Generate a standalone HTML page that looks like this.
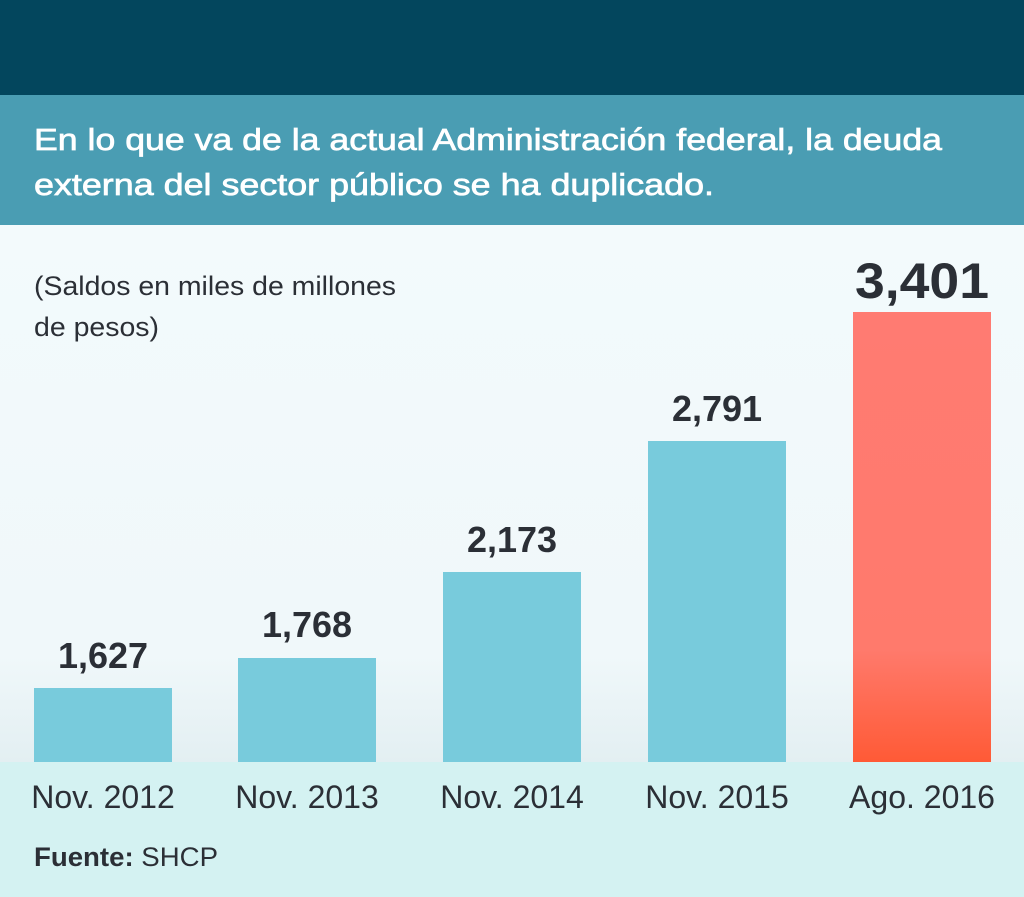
<!DOCTYPE html>
<html><head><meta charset="utf-8"><style>html,body{margin:0;padding:0;}svg{display:block}</style></head>
<body>
<svg width="1024" height="897" viewBox="0 0 1024 897" xmlns="http://www.w3.org/2000/svg" font-family="Liberation Sans, sans-serif">
<defs>
<linearGradient id="bg" x1="0" y1="0" x2="0" y2="1"><stop offset="0" stop-color="#f3fafc"/><stop offset="0.8" stop-color="#f0f8fa"/><stop offset="1" stop-color="#e3eff2"/></linearGradient>
<linearGradient id="red" x1="0" y1="0" x2="0" y2="1"><stop offset="0" stop-color="#ff7b72"/><stop offset="0.75" stop-color="#ff7a6c"/><stop offset="1" stop-color="#ff5a36"/></linearGradient>
</defs>
<rect x="0" y="0" width="1024" height="95" fill="#03465d"/>
<rect x="0" y="95" width="1024" height="130" fill="#4a9db3"/>
<rect x="0" y="225" width="1024" height="537" fill="url(#bg)"/>
<rect x="0" y="762" width="1024" height="135" fill="#d4f2f2"/>
<g fill="#ffffff" stroke="#ffffff" stroke-width="0.7" font-size="31">
<text x="34" y="150" textLength="908" lengthAdjust="spacingAndGlyphs">En lo que va de la actual Administración federal, la deuda</text>
<text x="34" y="195" textLength="680" lengthAdjust="spacingAndGlyphs">externa del sector público se ha duplicado.</text>
</g>
<g fill="#2b2f36" font-size="27">
<text x="34" y="295" textLength="362" lengthAdjust="spacingAndGlyphs">(Saldos en miles de millones</text>
<text x="34" y="336" textLength="125" lengthAdjust="spacingAndGlyphs">de pesos)</text>
</g>
<g fill="#78cbdc">
<rect x="34" y="688" width="138" height="74"/>
<rect x="238" y="658" width="138" height="104"/>
<rect x="443" y="572" width="138" height="190"/>
<rect x="648" y="441" width="138" height="321"/>
</g>
<rect x="853" y="312" width="138" height="450" fill="url(#red)"/>
<g fill="#2b2f36" font-weight="bold" font-size="36" text-anchor="middle">
<text x="103" y="668">1,627</text>
<text x="307" y="637">1,768</text>
<text x="512" y="552">2,173</text>
<text x="717" y="421">2,791</text>
<text x="922" y="298" font-size="50" textLength="134" lengthAdjust="spacingAndGlyphs">3,401</text>
</g>
<g fill="#2b2f36" font-size="32" text-anchor="middle">
<text x="103" y="808">Nov. 2012</text>
<text x="307" y="808">Nov. 2013</text>
<text x="512" y="808">Nov. 2014</text>
<text x="717" y="808">Nov. 2015</text>
<text x="922" y="808">Ago. 2016</text>
</g>
<text x="34" y="866" font-size="27" fill="#2b2f36" textLength="184" lengthAdjust="spacingAndGlyphs"><tspan font-weight="bold">Fuente:</tspan> SHCP</text>
</svg>
</body></html>
